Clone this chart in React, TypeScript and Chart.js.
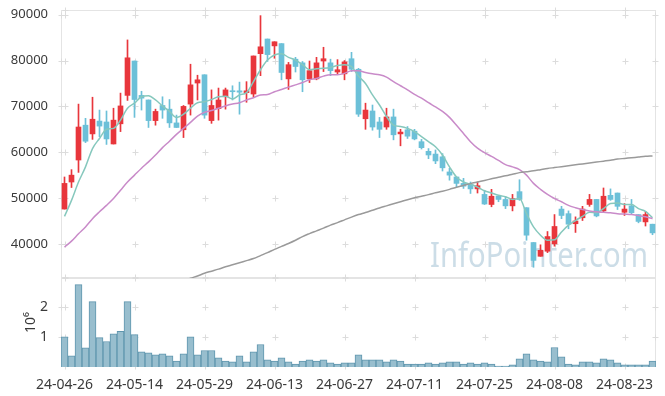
import React, { useEffect, useRef } from "react";
import { Chart, registerables } from "chart.js";

Chart.register(...registerables);

const DATES = ["24-04-26","24-04-29","24-04-30","24-05-02","24-05-03","24-05-07","24-05-08","24-05-09","24-05-10","24-05-13","24-05-14","24-05-16","24-05-17","24-05-20","24-05-21","24-05-22","24-05-23","24-05-24","24-05-27","24-05-28","24-05-29","24-05-30","24-05-31","24-06-03","24-06-04","24-06-05","24-06-07","24-06-10","24-06-11","24-06-12","24-06-13","24-06-14","24-06-17","24-06-18","24-06-19","24-06-20","24-06-21","24-06-24","24-06-25","24-06-26","24-06-27","24-06-28","24-07-01","24-07-02","24-07-03","24-07-04","24-07-05","24-07-08","24-07-09","24-07-10","24-07-11","24-07-12","24-07-15","24-07-16","24-07-17","24-07-18","24-07-19","24-07-22","24-07-23","24-07-24","24-07-25","24-07-26","24-07-29","24-07-30","24-07-31","24-08-01","24-08-02","24-08-05","24-08-06","24-08-07","24-08-08","24-08-09","24-08-12","24-08-13","24-08-14","24-08-16","24-08-19","24-08-20","24-08-21","24-08-22","24-08-23","24-08-26","24-08-27","24-08-28","24-08-29"];

const OPEN = [47600,53500,58300,65900,64000,66800,66600,61800,66200,72400,79900,72400,71400,66900,70200,69400,66400,64900,70500,75100,76900,66900,69500,72100,73400,73400,73000,72700,81500,84700,83200,83700,76000,80300,79500,76000,76000,79900,79500,77500,77100,80400,78100,67300,69000,66600,65500,67700,64000,64900,64600,62300,60200,59600,59000,55700,54600,53200,53000,52000,50800,48600,50400,49700,48300,51400,47900,40300,37300,38400,40000,47600,46600,44400,45700,48600,49700,47200,50600,51100,46900,48300,46400,44800,44300];
const HIGH = [54600,56200,70500,67400,72000,69200,69000,69600,72900,84500,79900,73300,71400,69400,72100,71500,68100,70200,79200,76800,76900,73600,74000,74000,74500,75300,75400,81000,89800,84700,84100,83700,79600,80700,79800,79900,80700,82900,80300,80200,80000,81800,78300,70700,70300,67600,69600,69400,65000,65600,65000,62800,60800,60500,59700,56500,54600,54300,53500,53500,51700,51900,50500,50300,50800,54000,47900,40300,39800,42700,46400,48200,47200,45900,48200,50800,49700,52200,52000,51100,48800,49700,46400,47100,44300];
const LOW = [47600,52300,55600,62100,62800,63400,61700,61800,64500,71300,67600,69200,65400,65900,67400,65400,65400,63200,68100,71400,67400,66300,67000,69400,71400,68300,70900,72100,76700,79800,80500,75800,73700,77500,73200,75200,75800,77600,76700,77100,75800,77600,67800,65000,64800,63200,65000,62700,61400,63000,62700,60700,58600,57500,55900,53900,52400,52100,51000,51100,48600,48100,49200,47700,47200,49500,40800,34900,37300,38100,39500,45500,43300,42500,45100,48200,45900,47000,49500,47500,46200,46600,44600,43900,42000];
const CLOSE = [53200,55000,65500,62400,67200,65700,62900,67000,70100,80600,71500,71800,66900,68900,69200,66400,65400,70000,74700,75800,68100,70200,71400,73600,73200,73100,73400,81000,83000,81300,84100,77400,79100,78700,75800,77800,79500,80400,77800,78000,79700,78100,68300,69200,65500,65000,67700,63800,64400,63500,62900,61000,59400,58100,56600,55000,53200,52600,52000,52700,48700,50400,49700,48300,49900,49700,41900,36400,38600,41600,43800,46200,44300,45000,47600,49700,46100,50400,49700,48200,47600,46800,44900,46400,42400];

const MA5 = [46000,49500,53500,56800,60800,63000,65000,65200,67000,69600,70700,72100,72300,71400,70100,68900,67600,68300,69600,70800,71000,71500,72100,72200,71600,72500,73000,75400,78000,80100,81200,81500,80700,80100,79100,78000,78200,78300,78500,78900,79100,78700,76600,75000,72500,70300,67800,65900,65600,65200,64500,63400,62300,61200,59400,56800,54600,53500,53000,52400,51600,51100,50600,50300,49700,49900,46600,43700,41900,40800,40900,42600,44100,45100,46000,46900,46800,47700,48800,48900,48600,48600,47700,47100,45700];
const MA20 = [39300,40600,42200,43700,45500,47000,48400,49900,51700,53500,55000,56500,57900,59400,61000,62400,63900,65200,66500,67900,68700,69100,69600,70100,70500,70800,71400,71900,72500,72600,73200,73700,74200,74700,75200,75800,76100,76600,76900,76900,77200,77800,77800,77400,77100,76900,76400,75400,74500,73600,72600,71800,70800,69900,68900,67600,65900,64100,62300,60900,59900,59100,58200,57300,56800,56200,55000,53200,51900,50800,49900,49200,48400,47900,47500,47200,47000,46900,46800,46600,46500,46400,46200,45900,45500];
const MA_LONG = [null,null,null,null,null,null,null,null,null,null,null,null,null,null,null,null,null,31900,32500,33000,33600,34050,34500,35000,35450,35900,36350,36800,37450,38100,38800,39450,40100,40800,41600,42250,42850,43450,44100,44650,45250,45850,46400,46850,47350,47850,48300,48750,49200,49650,50050,50400,50750,51150,51500,51900,52350,52750,53150,53500,53850,54200,54550,54850,55200,55550,55750,55950,56200,56450,56650,56850,57050,57250,57450,57650,57850,58050,58250,58500,58650,58800,58950,59100,59200];

const VOLUME_M = [1.01,0.375,2.75,0.64,2.18,0.98,0.85,1.11,1.19,2.18,1.08,0.51,0.47,0.41,0.44,0.375,0.2,0.44,1.01,0.41,0.55,0.55,0.31,0.2,0.17,0.375,0.17,0.51,0.75,0.24,0.2,0.31,0.17,0.1,0.2,0.24,0.2,0.24,0.14,0.1,0.14,0.14,0.41,0.24,0.24,0.24,0.17,0.24,0.2,0.1,0.1,0.1,0.14,0.1,0.14,0.17,0.17,0.1,0.14,0.1,0.14,0.1,0.03,0.03,0.07,0.27,0.44,0.24,0.2,0.17,0.65,0.34,0.1,0.07,0.17,0.17,0.14,0.27,0.24,0.14,0.07,0.07,0.07,0.07,0.2];

const PRICE_TICKS = [40000, 50000, 60000, 70000, 80000, 90000];
const VOLUME_TICKS = [1, 2];
const X_TICK_EVERY = 10;
const WATERMARK = "InfoPointer.com";

const FONT = '"Noto Sans", "DejaVu Sans", sans-serif';
const TEXT = "#3a3a3a";
const UP = "#e8363c";
const DOWN = "#6cc0d8";
const FRAME = "#e4e4e4";
const CROSS = "#dcdcdc";
const AXIS_W = 61;

function crossPlugin(yTicks: number[], watermark: boolean) {
  return {
    id: "frameCross",
    beforeDatasetsDraw(chart: any) {
      const { ctx, chartArea: a, scales } = chart;
      ctx.save();
      if (watermark) {
        ctx.font = `35px ${FONT}`;
        const w = ctx.measureText(WATERMARK).width;
        const target = 218;
        ctx.fillStyle = "rgba(170,198,215,0.6)";
        ctx.textBaseline = "alphabetic";
        ctx.translate(430, 267);
        ctx.scale(target / w, 1);
        ctx.fillText(WATERMARK, 0, 0);
        ctx.setTransform(1, 0, 0, 1, 0, 0);
      }
      ctx.strokeStyle = FRAME;
      ctx.lineWidth = 1;
      ctx.strokeRect(a.left + 0.5, a.top + 0.5, a.right - a.left - 1, a.bottom - a.top - 1);
      ctx.strokeStyle = CROSS;
      const xs: number[] = [];
      for (let i = 0; i < DATES.length; i += X_TICK_EVERY) xs.push(Math.round(scales.x.getPixelForValue(i)) + 0.5);
      const ys = yTicks.map((v) => Math.round(scales.y.getPixelForValue(v)) + 0.5);
      const cross = (x: number, y: number) => {
        ctx.beginPath();
        ctx.moveTo(x - 3, y);
        ctx.lineTo(x + 3, y);
        ctx.moveTo(x, y - 3);
        ctx.lineTo(x, y + 3);
        ctx.stroke();
      };
      for (const y of ys) {
        cross(a.left + 0.5, y);
        cross(a.right - 0.5, y);
        for (const x of xs) cross(x, y);
      }
      for (const x of xs) {
        cross(x, a.top + 0.5);
        cross(x, a.bottom - 0.5);
      }
      ctx.restore();
    },
  };
}

const noPad = (s: any) => {
  s.paddingTop = 0;
  s.paddingBottom = 0;
  s.paddingLeft = 0;
  s.paddingRight = 0;
};

export default function App() {
  const priceRef = useRef<HTMLCanvasElement>(null);
  const volRef = useRef<HTMLCanvasElement>(null);

  useEffect(() => {
    const colors = DATES.map((_, i) => (CLOSE[i] >= OPEN[i] ? UP : DOWN));
    const yFont = { family: FONT, size: 13 };
    const xFont = { family: FONT, size: 14 };

    const price = new Chart(priceRef.current!, {
      type: "bar",
      data: {
        labels: DATES,
        datasets: [
          {
            type: "line",
            data: MA_LONG as any,
            borderColor: "#9a9a9a",
            borderWidth: 1.5,
            pointRadius: 0,
            cubicInterpolationMode: "monotone",
            order: 0,
          } as any,
          {
            type: "line",
            data: MA20,
            borderColor: "#c98bc9",
            borderWidth: 1.5,
            pointRadius: 0,
            cubicInterpolationMode: "monotone",
            order: 0,
          } as any,
          {
            type: "line",
            data: MA5,
            borderColor: "#86c8bd",
            borderWidth: 1.5,
            pointRadius: 0,
            cubicInterpolationMode: "monotone",
            order: 0,
          } as any,
          {
            type: "bar",
            data: DATES.map((_, i) => [LOW[i], HIGH[i]]) as any,
            backgroundColor: colors,
            barThickness: 1,
            grouped: false,
            order: 2,
          } as any,
          {
            type: "bar",
            data: DATES.map((_, i) => [OPEN[i], CLOSE[i]]) as any,
            backgroundColor: colors,
            barThickness: 5,
            minBarLength: 1,
            grouped: false,
            order: 1,
          } as any,
        ],
      },
      options: {
        animation: false,
        responsive: false,
        maintainAspectRatio: false,
        layout: { padding: { top: 10, right: 9, left: 0, bottom: 0 } },
        plugins: { legend: { display: false }, tooltip: { enabled: false } },
        scales: {
          x: { type: "category", display: false, offset: true, grid: { display: false }, afterFit: noPad },
          y: {
            min: 32560,
            max: 91030,
            afterBuildTicks: (s: any) => {
              s.ticks = PRICE_TICKS.map((v) => ({ value: v }));
            },
            afterFit: (s: any) => {
              s.width = AXIS_W;
              noPad(s);
            },
            grid: { display: false },
            border: { display: false },
            ticks: { font: yFont, color: TEXT, padding: 5, callback: (v: any) => String(v) },
          },
        },
      } as any,
      plugins: [crossPlugin(PRICE_TICKS, true)],
    });

    const vol = new Chart(volRef.current!, {
      type: "bar",
      data: {
        labels: DATES,
        datasets: [
          {
            data: VOLUME_M,
            backgroundColor: "#98bece",
            borderColor: "#5f96ae",
            borderWidth: 1,
            barPercentage: 1,
            categoryPercentage: 1,
          },
        ],
      },
      options: {
        animation: false,
        responsive: false,
        maintainAspectRatio: false,
        layout: { padding: { top: 0, right: 9, left: 0, bottom: 0 } },
        plugins: { legend: { display: false }, tooltip: { enabled: false } },
        scales: {
          x: {
            offset: true,
            grid: { display: false },
            border: { display: false },
            afterBuildTicks: (s: any) => {
              s.ticks = s.ticks.filter((t: any) => t.value % X_TICK_EVERY === 0);
            },
            afterFit: (s: any) => {
              s.height = 29;
              noPad(s);
            },
            ticks: { font: xFont, color: TEXT, padding: 2, autoSkip: false, maxRotation: 0, minRotation: 0 },
          },
          y: {
            min: 0,
            max: 2.97,
            afterBuildTicks: (s: any) => {
              s.ticks = VOLUME_TICKS.map((v) => ({ value: v }));
            },
            afterFit: (s: any) => {
              s.width = AXIS_W;
              noPad(s);
            },
            grid: { display: false },
            border: { display: false },
            ticks: { font: { family: FONT, size: 14 }, color: TEXT, padding: 5 },
            title: {
              display: true,
              text: "10⁶",
              font: { family: FONT, size: 14 },
              color: TEXT,
              padding: { top: 23, bottom: 0 },
            },
          },
        },
      } as any,
      plugins: [crossPlugin(VOLUME_TICKS, false)],
    });

    return () => {
      price.destroy();
      vol.destroy();
    };
  }, []);

  return (
    <div style={{ position: "absolute", left: 0, top: 0, width: 665, height: 396, background: "#fff" }}>
      <canvas ref={priceRef} width={665} height={278} style={{ display: "block" }} />
      <canvas ref={volRef} width={665} height={118} style={{ display: "block" }} />
    </div>
  );
}
